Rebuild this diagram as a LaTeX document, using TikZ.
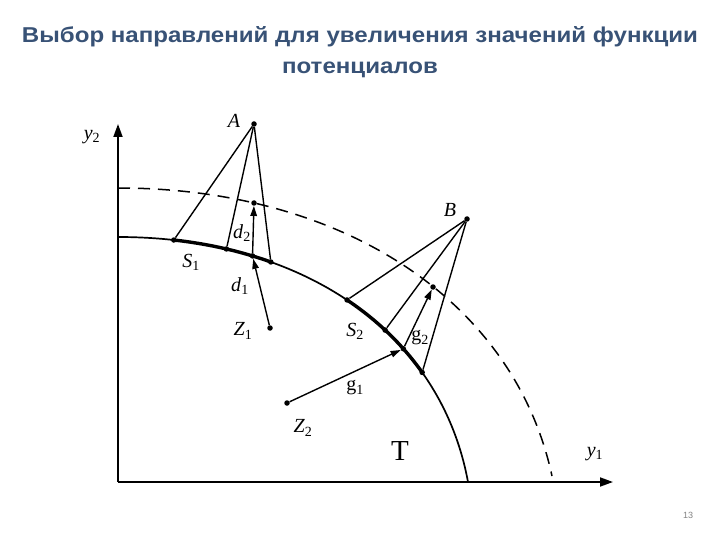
\documentclass[tikz,border=0pt]{standalone}
\usepackage{fontspec}
\setmainfont{Liberation Serif}
\newfontfamily\headfont{Liberation Sans}
\usetikzlibrary{arrows.meta}
\definecolor{head_blue}{RGB}{56,82,118}
\definecolor{num_grey}{RGB}{130,130,130}
\tikzstyle{dot}=[circle,fill=black,inner sep=0pt,minimum size=5.5pt]
\tikzstyle{lbl}=[font=\fontsize{20}{20}\selectfont,inner sep=0pt]
\tikzstyle{head}=[anchor=base,font=\headfont\bfseries\fontsize{21.5}{24}\selectfont,
  text=head_blue,transform shape,xscale=1.12]
\tikzstyle{axis}=[line width=1.8pt,-{Triangle[length=13pt,width=9pt]}]
\tikzstyle{ray}=[line width=1.4pt]
\tikzstyle{vec}=[line width=1.4pt,-{Triangle[length=10pt,width=6.5pt]}]
\tikzstyle{none}=[]
\tikzset{declare function={bx(\t)=(1-\t)^3*118+3*(1-\t)^2*\t*300+3*(1-\t)*\t^2*440+\t^3*468;
  by(\t)=(1-\t)^3*237+3*(1-\t)^2*\t*237+3*(1-\t)*\t^2*330+\t^3*482;}}

\begin{document}
\begin{tikzpicture}[x=1pt,y=-1pt]
        \useasboundingbox (0,0) rectangle (720,540);
        % title
        \node [style=head] (t1) at (360,43) {Выбор направлений для увеличения значений функции};
        \node [style=head] (t2) at (360,74) {потенциалов};
        % axes
        \coordinate (O) at (118,482);
        \coordinate (ytip) at (118,124);
        \coordinate (xtip) at (613,482);
        \draw [axis] (O) -- (ytip);
        \draw [axis] (O) -- (xtip);
        % boundary of T and the dashed level
        \draw [line width=1.7pt] (118,237) .. controls (300,237) and (440,330) .. (468,482);
        \draw [line width=1.5pt,dash pattern=on 12pt off 8pt] (118,188) .. controls (342,188) and (514,300) .. (552,476);
        \draw [line width=3.4pt] plot [domain=0.105:0.305,samples=25,variable=\t] ({bx(\t)},{by(\t)});
        \draw [line width=3.4pt] plot [domain=0.49:0.73,samples=25,variable=\t] ({bx(\t)},{by(\t)});
        % points
        \node [style=dot] (A) at (254,124) {};
        \node [style=dot] (B) at (467,219) {};
        \node [style=dot] (Z1) at (270,328) {};
        \node [style=dot] (Z2) at (287,403) {};
        \node [style=dot] (D2) at (254,203) {};
        \node [style=dot] (G2) at (433,287) {};
        \node [style=dot] (s1a) at ({bx(0.105)},{by(0.105)}) {};
        \node [style=dot] (s1b) at ({bx(0.21)},{by(0.21)}) {};
        \node [style=dot] (s1c) at ({bx(0.265)},{by(0.265)}) {};
        \node [style=dot] (s1d) at ({bx(0.305)},{by(0.305)}) {};
        \node [style=dot] (s2a) at ({bx(0.49)},{by(0.49)}) {};
        \node [style=dot] (s2b) at ({bx(0.6)},{by(0.6)}) {};
        \node [style=dot] (s2c) at ({bx(0.66)},{by(0.66)}) {};
        \node [style=dot] (s2d) at ({bx(0.73)},{by(0.73)}) {};
        % cones and directions
        \draw [style=ray] (A) -- (s1a);
        \draw [style=ray] (A) -- (s1b);
        \draw [style=ray] (A) -- (s1d);
        \draw [style=ray] (B) -- (s2a);
        \draw [style=ray] (B) -- (s2b);
        \draw [style=ray] (B) -- (s2d);
        \draw [style=vec] (s1c) -- (D2);
        \draw [style=vec] (Z1) -- (s1c);
        \draw [style=vec] (s2c) -- (G2);
        \draw [style=vec] (Z2) -- (s2c);
        % labels
        \node [style=lbl] (lA) at (234,121) {\textit{A}};
        \node [style=lbl] (lB) at (450,210) {\textit{B}};
        \node [style=lbl] (ly2) at (92,137) {\textit{y}\textsubscript{2}};
        \node [style=lbl] (ly1) at (595,454) {\textit{y}\textsubscript{1}};
        \node [style=lbl] (ld2) at (242,233) {\textit{d}\textsubscript{2}};
        \node [style=lbl] (ld1) at (240,286) {\textit{d}\textsubscript{1}};
        \node [style=lbl] (lS1) at (191,262) {\textit{S}\textsubscript{1}};
        \node [style=lbl] (lZ1) at (243,331) {\textit{Z}\textsubscript{1}};
        \node [style=lbl] (lS2) at (355,331) {\textit{S}\textsubscript{2}};
        \node [style=lbl] (lg2) at (420,338) {g\textsubscript{2}};
        \node [style=lbl] (lg1) at (355,388) {g\textsubscript{1}};
        \node [style=lbl] (lZ2) at (303,428) {\textit{Z}\textsubscript{2}};
        \node [style=lbl,font=\fontsize{29}{29}\selectfont] (lT) at (400,451) {T};
        % page number
        \node [font=\headfont\fontsize{9}{9}\selectfont,text=num_grey] (num) at (688,515) {13};
    \end{tikzpicture}
\end{document}
